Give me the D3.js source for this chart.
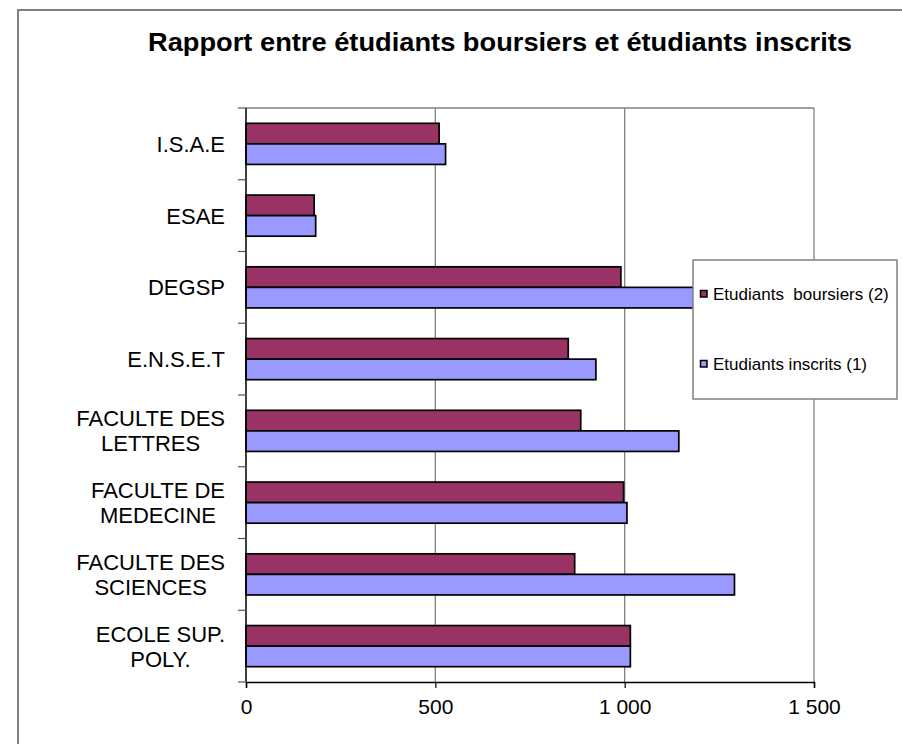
<!DOCTYPE html>
<html>
<head>
<meta charset="utf-8">
<script src="https://cdn.jsdelivr.net/npm/d3@7"></script>
<style>
    body { margin: 0; background: #fff; }
    text { font-family: "Liberation Sans", Arial, sans-serif; }
</style>
</head>
<body>
<script>
// Categories, top to bottom as shown ("|" marks a line break)
var categories = ["I.S.A.E", "ESAE", "DEGSP", "E.N.S.E.T", "FACULTE DES|LETTRES",
    "FACULTE DE|MEDECINE", "FACULTE DES|SCIENCES", "ECOLE SUP.|POLY."];
var boursiers = [510, 180, 990, 851, 884, 997, 868, 1015];
var inscrits = [527, 184, 1240, 924, 1143, 1006, 1290, 1015];
var seriesNames = ["Etudiants  boursiers (2)", "Etudiants inscrits (1)"];
var seriesColors = ["#993366", "#9999ff"];
var xTicks = [0, 500, 1000, 1500];

window.onload = function() {
    var svgWidth = 902, svgHeight = 744;
    var plot = { left: 246, right: 814, top: 108, bottom: 682 };

    const svg = d3.select("body").append("svg")
        .attr("width", svgWidth)
        .attr("height", svgHeight);

    // Outer chart border
    svg.append("rect")
        .attr("x", 18).attr("y", 10)
        .attr("width", 900).attr("height", 760)
        .attr("fill", "none")
        .attr("stroke", "#808080")
        .attr("stroke-width", 2);

    // Title
    svg.append("text")
        .attr("x", 500).attr("y", 51)
        .attr("text-anchor", "middle")
        .attr("font-weight", "bold")
        .attr("font-size", "26px")
        .attr("textLength", 704)
        .attr("lengthAdjust", "spacingAndGlyphs")
        .text("Rapport entre étudiants boursiers et étudiants inscrits");

    const xScale = d3.scaleLinear()
        .domain([0, 1500])
        .range([plot.left, plot.right]);

    const yScale = d3.scaleBand()
        .domain(categories)
        .range([plot.top, plot.bottom])
        .paddingInner(0.427)
        .paddingOuter(0.2135);

    const subScale = d3.scaleBand()
        .domain([0, 1])
        .range([0, yScale.bandwidth()]);

    // Vertical gridlines (the last one closes the plot area)
    svg.append("g")
        .selectAll("line")
        .data(xTicks.slice(1))
        .enter()
        .append("line")
        .attr("x1", d => xScale(d)).attr("x2", d => xScale(d))
        .attr("y1", plot.top).attr("y2", plot.bottom)
        .attr("stroke", "#808080")
        .attr("stroke-width", 1.3);

    // Top border of plot area
    svg.append("line")
        .attr("x1", plot.left).attr("x2", plot.right)
        .attr("y1", plot.top).attr("y2", plot.top)
        .attr("stroke", "#808080")
        .attr("stroke-width", 1.5);

    // Bars
    var rows = categories.map(function(c, i) {
        return { cat: c, values: [boursiers[i], inscrits[i]] };
    });

    var groups = svg.selectAll(".group")
        .data(rows)
        .enter()
        .append("g")
        .attr("class", "group")
        .attr("transform", d => `translate(0, ${yScale(d.cat)})`);

    groups.selectAll("rect")
        .data(d => d.values.map((v, j) => ({ v: v, j: j })))
        .enter()
        .append("rect")
        .attr("x", xScale(0))
        .attr("y", d => subScale(d.j))
        .attr("width", d => xScale(d.v) - xScale(0))
        .attr("height", subScale.bandwidth())
        .attr("fill", d => seriesColors[d.j])
        .attr("stroke", "#000")
        .attr("stroke-width", 1.7);

    // X axis
    const xAxis = svg.append("g")
        .attr("transform", `translate(0, ${plot.bottom})`)
        .call(d3.axisBottom(xScale)
            .tickValues(xTicks)
            .tickSize(6)
            .tickFormat(d => d3.format(",")(d).replace(",", " ")));
    xAxis.select(".domain").attr("stroke", "#000").attr("stroke-width", 1.5);
    xAxis.selectAll(".tick line").attr("stroke", "#000").attr("stroke-width", 1.2);
    xAxis.selectAll("text")
        .attr("font-size", "21px")
        .attr("font-family", "Liberation Sans, Arial, sans-serif")
        .attr("fill", "#000")
        .attr("y", 0)
        .attr("dy", 0)
        .attr("transform", "translate(0, 32)");

    // Y axis line and ticks at band boundaries
    svg.append("line")
        .attr("x1", plot.left).attr("x2", plot.left)
        .attr("y1", plot.top).attr("y2", plot.bottom)
        .attr("stroke", "#000")
        .attr("stroke-width", 1.5);

    var step = yScale.step();
    svg.append("g")
        .selectAll("line")
        .data(d3.range(categories.length + 1))
        .enter()
        .append("line")
        .attr("x1", plot.left - 8).attr("x2", plot.left)
        .attr("y1", i => plot.top + i * step).attr("y2", i => plot.top + i * step)
        .attr("stroke", "#555")
        .attr("stroke-width", 1.2);

    // Y labels: single lines right-aligned, wrapped labels centred as a block
    var labelRight = 225;
    var lineGap = 25;
    svg.append("g")
        .selectAll("text")
        .data(categories)
        .enter()
        .append("text")
        .attr("font-size", "22px")
        .attr("fill", "#000")
        .each(function(d) {
            var parts = d.split("|");
            var el = d3.select(this);
            var yMid = yScale(d) + yScale.bandwidth() / 2;
            var spans = parts.map(function(p, k) {
                return el.append("tspan")
                    .attr("y", yMid + (k - (parts.length - 1) / 2) * lineGap)
                    .attr("dy", "0.36em")
                    .text(p);
            });
            var widest = d3.max(spans, s => s.node().getComputedTextLength());
            spans.forEach(function(s) {
                s.attr("text-anchor", "middle")
                    .attr("x", labelRight - widest / 2);
            });
        });

    // Legend
    const legend = svg.append("g");
    legend.append("rect")
        .attr("x", 693).attr("y", 260)
        .attr("width", 204).attr("height", 139)
        .attr("fill", "#fff")
        .attr("stroke", "#808080")
        .attr("stroke-width", 1.5);

    var legendY = [294, 364];
    seriesNames.forEach(function(name, i) {
        legend.append("rect")
            .attr("x", 700.5).attr("y", legendY[i] - 3.5)
            .attr("width", 6.5).attr("height", 6.5)
            .attr("fill", seriesColors[i])
            .attr("stroke", "#000")
            .attr("stroke-width", 1.5);
        legend.append("text")
            .attr("x", 713).attr("y", legendY[i])
            .attr("dy", "0.36em")
            .attr("font-size", "17px")
            .attr("fill", "#000")
            .style("white-space", "pre")
            .text(name);
    });
};
</script>
</body>
</html>
